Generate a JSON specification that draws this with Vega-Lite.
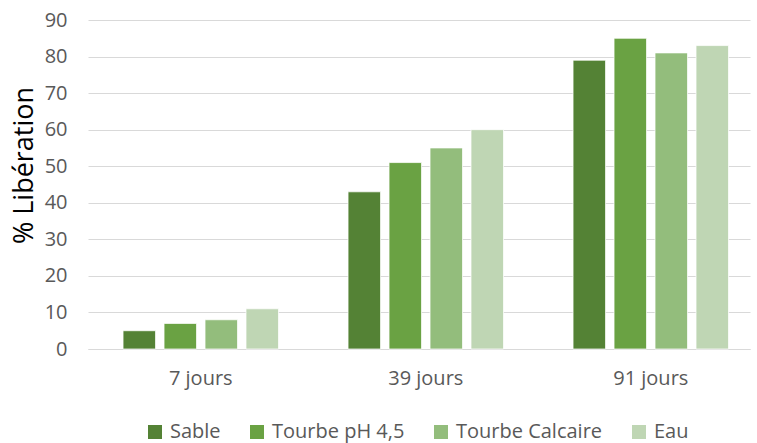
{
  "$schema": "https://vega.github.io/schema/vega-lite/v6.json",
  "autosize": {"type": "none"},
  "width": 662,
  "height": 329,
  "padding": {"left": 88, "top": 20, "right": 7, "bottom": 94},
  "background": "white",
  "data": {
    "values": [
      {"jour": "7 jours", "serie": "Sable", "v": 5},
      {"jour": "7 jours", "serie": "Tourbe pH 4,5", "v": 7},
      {"jour": "7 jours", "serie": "Tourbe Calcaire", "v": 8},
      {"jour": "7 jours", "serie": "Eau", "v": 11},
      {"jour": "39 jours", "serie": "Sable", "v": 43},
      {"jour": "39 jours", "serie": "Tourbe pH 4,5", "v": 51},
      {"jour": "39 jours", "serie": "Tourbe Calcaire", "v": 55},
      {"jour": "39 jours", "serie": "Eau", "v": 60},
      {"jour": "91 jours", "serie": "Sable", "v": 79},
      {"jour": "91 jours", "serie": "Tourbe pH 4,5", "v": 85},
      {"jour": "91 jours", "serie": "Tourbe Calcaire", "v": 81},
      {"jour": "91 jours", "serie": "Eau", "v": 83}
    ]
  },
  "mark": {"type": "bar", "stroke": "white", "strokeWidth": 0.75},
  "encoding": {
    "x": {
      "field": "jour", "type": "nominal", "sort": ["7 jours", "39 jours", "91 jours"],
      "scale": {"paddingInner": 0.309, "paddingOuter": 0.1256, "align": 0.62},
      "axis": {"title": null, "labelAngle": 0, "ticks": false, "domainColor": "#d9d9d9", "labelColor": "#595959", "labelFont": "Open Sans", "labelFontSize": 20, "labelPadding": 19}
    },
    "xOffset": {
      "field": "serie", "type": "nominal", "sort": ["Sable", "Tourbe pH 4,5", "Tourbe Calcaire", "Eau"],
      "scale": {"paddingInner": 0.207}
    },
    "y": {
      "field": "v", "type": "quantitative",
      "scale": {"domain": [0, 90], "nice": false},
      "axis": {"title": "% Libération", "values": [0,10,20,30,40,50,60,70,80,90], "domain": false, "ticks": false, "gridColor": "#d9d9d9", "gridWidth": 1, "labelColor": "#595959", "labelFont": "Open Sans", "labelFontSize": 20, "labelPadding": 21, "titleFont": "Open Sans", "titleFontSize": 27, "titleFontWeight": "normal", "titleColor": "#000000", "titlePadding": 6, "titleY": 145}
    },
    "color": {
      "field": "serie", "type": "nominal", "sort": ["Sable", "Tourbe pH 4,5", "Tourbe Calcaire", "Eau"],
      "scale": {"domain": ["Sable", "Tourbe pH 4,5", "Tourbe Calcaire", "Eau"], "range": ["#548235", "#6aa243", "#93bd7c", "#bfd6b4"]},
      "legend": {"title": null, "orient": "none", "direction": "horizontal", "legendX": 57, "legendY": 402, "symbolType": "square", "symbolSize": 196, "symbolStrokeWidth": 0, "labelFont": "Open Sans", "labelFontSize": 20, "labelColor": "#595959", "columnPadding": 26, "labelOffset": 5}
    }
  },
  "config": {"view": {"stroke": null}}
}
